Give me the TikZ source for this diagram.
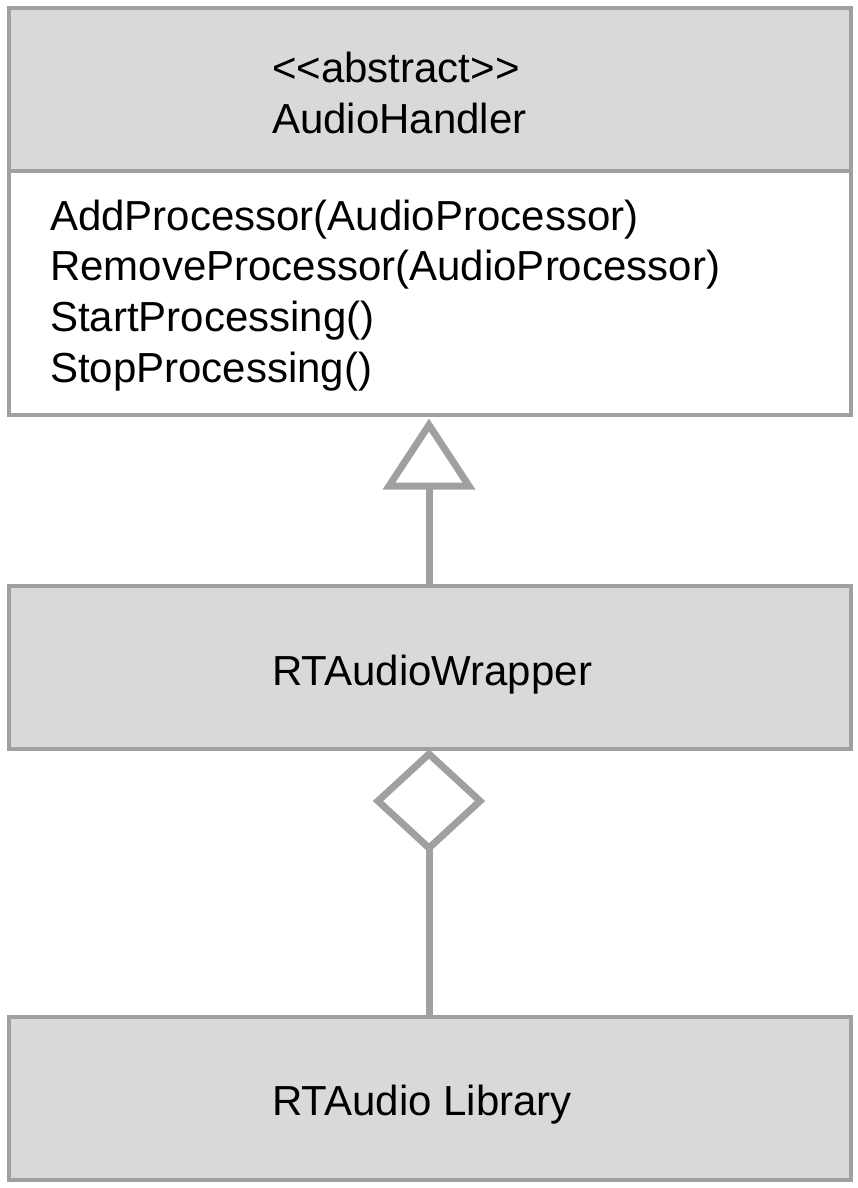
\documentclass[tikz,border=0pt]{standalone}
\usepackage{fontspec}
\setmainfont{Liberation Sans}
\definecolor{edgegray}{HTML}{A0A0A0}
\definecolor{boxfill}{HTML}{D9D9D9}
\tikzset{
  umlbox/.style={draw=edgegray, line width=4pt, fill=boxfill, rectangle, inner sep=0pt, minimum width=841.8pt},
  bodybox/.style={umlbox, fill=white},
  label/.style={anchor=base west, inner sep=0pt, font=\fontsize{42pt}{50pt}\selectfont, text=black},
  conn/.style={draw=edgegray, line width=7pt},
  headmark/.style={draw=edgegray, line width=7pt, fill=white, line join=miter}
}
\begin{document}
\begin{tikzpicture}[x=1pt,y=-1pt]
\useasboundingbox (0,0) rectangle (858,1188);
% boxes
\node[umlbox, minimum height=162.5pt] (ahhead) at (429.6,89.25) {};
\node[bodybox, minimum height=244.5pt] (ahbody) at (429.6,292.75) {};
\node[umlbox, minimum height=162.5pt] (rtw) at (429.6,667.25) {};
\node[umlbox, minimum height=162.5pt] (lib) at (429.6,1098.25) {};
% texts
\node[label] (stereo) at (272,83) {<\kern0pt<abstract>\kern0pt>};
\node[label] (ahname) at (272,133) {AudioHandler};
\node[label] (m1) at (50,230) {AddProcessor(AudioProcessor)};
\node[label] (m2) at (50,280.7) {RemoveProcessor(AudioProcessor)};
\node[label] (m3) at (50,331.3) {StartProcessing()};
\node[label] (m4) at (50,382) {StopProcessing()};
\node[label] (rtwname) at (272,685.7) {RTAudioWrapper};
\node[label] (libname) at (272,1115.7) {RTAudio Library};
% generalization: RTAudioWrapper -> AudioHandler
\coordinate (tribase) at (429,486);
\draw[conn] (rtw.north -| tribase) -- (tribase);
\draw[headmark] (429,425) -- (389,486) -- (469,486) -- cycle;
% aggregation: RTAudio Library -> RTAudioWrapper
\coordinate (diabottom) at (429,848);
\draw[conn] (lib.north -| diabottom) -- (diabottom);
\draw[headmark] (429,754) -- (480,801) -- (429,848) -- (378,801) -- cycle;
\end{tikzpicture}
\end{document}
